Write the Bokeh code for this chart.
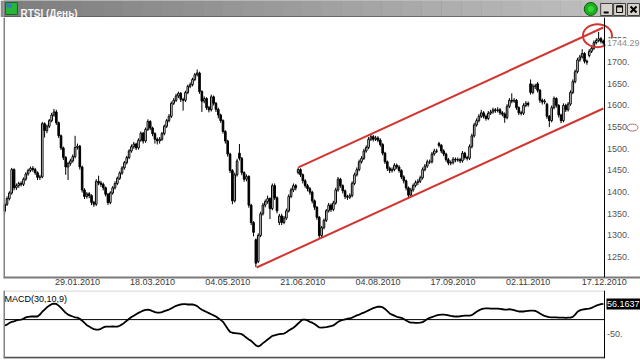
from bokeh.plotting import figure
from bokeh.layouts import column
from bokeh.models import Range1d, FixedTicker, Span, ColumnDataSource
from bokeh.core.properties import value
from bokeh.embed import file_html
from bokeh.resources import INLINE

# ---------------- data ----------------
title_text = "RTSI (День)"
indicator_name = "MACD(30,10,9)"

opens = [
    1356, 1372, 1385, 1398, 1452, 1410, 1415, 1420, 1418, 1430,
    1442, 1450, 1455, 1452, 1445, 1434, 1435, 1558, 1542, 1552,
    1565, 1578, 1585, 1560, 1530, 1502, 1480, 1458, 1466, 1472,
    1482, 1503, 1506, 1458, 1405, 1390, 1396, 1392, 1376, 1372,
    1425, 1421, 1418, 1410, 1395, 1376, 1398, 1410, 1420, 1432,
    1444, 1456, 1468, 1480, 1495, 1505, 1511, 1502, 1520, 1536,
    1518, 1545, 1563, 1548, 1535, 1522, 1518, 1522, 1535, 1552,
    1565, 1575, 1605, 1612, 1622, 1628, 1614, 1612, 1630, 1644,
    1648, 1660, 1671, 1675, 1632, 1610, 1616, 1595, 1590, 1620,
    1605, 1591, 1578, 1565, 1540, 1518, 1488, 1450, 1380, 1440,
    1490, 1478, 1445, 1430, 1436, 1370, 1330, 1290, 1240, 1300,
    1350, 1370, 1378, 1385, 1362, 1415, 1387, 1330, 1345, 1330,
    1340, 1357, 1390, 1405, 1415, 1445, 1452, 1440, 1426, 1415,
    1408, 1400, 1380, 1365, 1342, 1300, 1318, 1335, 1357, 1370,
    1360, 1375, 1405, 1430, 1415, 1403, 1390, 1388, 1392, 1420,
    1440, 1452, 1470, 1478, 1495, 1503, 1522, 1528, 1522, 1525,
    1520, 1510, 1490, 1470, 1455, 1450, 1452, 1462, 1458, 1450,
    1435, 1426, 1410, 1393, 1405, 1415, 1422, 1425, 1433, 1452,
    1460, 1470, 1470, 1488, 1495, 1512, 1508, 1495, 1488, 1475,
    1467, 1468, 1476, 1474, 1475, 1472, 1490, 1480, 1478, 1505,
    1530, 1555, 1565, 1575, 1583, 1575, 1570, 1582, 1585, 1590,
    1588, 1590, 1583, 1580, 1572, 1598, 1612, 1610, 1612, 1595,
    1583, 1582, 1600, 1605, 1650, 1630, 1645, 1650, 1635, 1612,
    1608, 1603, 1575, 1565, 1595, 1616, 1600, 1578, 1565, 1600,
    1590, 1603, 1630, 1655, 1678, 1705, 1712, 1720, 1702, 1715,
    1725, 1732, 1745, 1750, 1754, 1748,
]

highs = [
    1376, 1390, 1402, 1456, 1455, 1420, 1424, 1425, 1434, 1446,
    1454, 1459, 1460, 1456, 1448, 1440, 1562, 1561, 1556, 1569,
    1583, 1592, 1590, 1563, 1533, 1505, 1483, 1470, 1477, 1487,
    1530, 1512, 1509, 1461, 1409, 1400, 1400, 1395, 1380, 1430,
    1438, 1426, 1422, 1413, 1398, 1402, 1414, 1425, 1436, 1448,
    1460, 1472, 1484, 1499, 1510, 1516, 1514, 1524, 1540, 1539,
    1549, 1568, 1566, 1551, 1538, 1526, 1527, 1539, 1556, 1569,
    1580, 1609, 1617, 1627, 1632, 1631, 1618, 1634, 1648, 1653,
    1664, 1675, 1683, 1678, 1635, 1621, 1619, 1599, 1625, 1623,
    1608, 1595, 1581, 1568, 1543, 1521, 1491, 1453, 1445, 1477,
    1511, 1481, 1448, 1441, 1439, 1373, 1333, 1293, 1305, 1355,
    1375, 1383, 1392, 1388, 1420, 1420, 1390, 1350, 1350, 1345,
    1362, 1395, 1410, 1420, 1419, 1457, 1455, 1443, 1430, 1419,
    1412, 1403, 1383, 1368, 1345, 1322, 1339, 1361, 1375, 1374,
    1380, 1410, 1435, 1433, 1418, 1406, 1394, 1397, 1425, 1445,
    1457, 1475, 1483, 1500, 1508, 1527, 1533, 1532, 1530, 1529,
    1524, 1513, 1493, 1473, 1459, 1457, 1467, 1466, 1462, 1453,
    1439, 1429, 1413, 1410, 1420, 1427, 1430, 1438, 1457, 1465,
    1475, 1475, 1493, 1500, 1500, 1516, 1511, 1499, 1491, 1479,
    1473, 1481, 1480, 1480, 1479, 1495, 1493, 1484, 1510, 1535,
    1560, 1570, 1580, 1590, 1587, 1579, 1587, 1590, 1595, 1594,
    1596, 1594, 1587, 1584, 1603, 1617, 1628, 1617, 1615, 1598,
    1588, 1605, 1610, 1609, 1660, 1650, 1650, 1654, 1638, 1616,
    1615, 1606, 1578, 1600, 1621, 1619, 1603, 1581, 1605, 1604,
    1608, 1635, 1660, 1683, 1710, 1717, 1730, 1723, 1706, 1730,
    1737, 1750, 1755, 1770, 1758, 1752,
]

lows = [
    1350, 1368, 1381, 1394, 1404, 1405, 1410, 1413, 1414, 1426,
    1438, 1446, 1447, 1440, 1428, 1428, 1432, 1526, 1536, 1548,
    1561, 1574, 1555, 1525, 1497, 1474, 1440, 1428, 1461, 1468,
    1478, 1498, 1452, 1399, 1384, 1385, 1386, 1370, 1366, 1368,
    1416, 1412, 1404, 1390, 1370, 1372, 1394, 1406, 1416, 1428,
    1440, 1452, 1464, 1476, 1491, 1500, 1497, 1498, 1516, 1512,
    1514, 1541, 1543, 1529, 1512, 1510, 1512, 1518, 1531, 1548,
    1561, 1571, 1601, 1608, 1617, 1608, 1588, 1608, 1626, 1640,
    1644, 1656, 1667, 1627, 1585, 1605, 1590, 1584, 1586, 1600,
    1585, 1570, 1560, 1535, 1512, 1482, 1444, 1372, 1376, 1436,
    1473, 1439, 1424, 1425, 1364, 1324, 1298, 1227, 1236, 1296,
    1346, 1365, 1373, 1338, 1358, 1382, 1351, 1324, 1324, 1326,
    1336, 1353, 1386, 1400, 1404, 1441, 1435, 1420, 1410, 1402,
    1394, 1374, 1359, 1336, 1294, 1296, 1314, 1331, 1353, 1354,
    1356, 1371, 1401, 1410, 1397, 1384, 1382, 1384, 1388, 1416,
    1436, 1448, 1466, 1474, 1491, 1499, 1518, 1517, 1518, 1515,
    1505, 1485, 1465, 1449, 1444, 1445, 1448, 1453, 1445, 1430,
    1420, 1404, 1385, 1389, 1401, 1411, 1416, 1421, 1429, 1448,
    1456, 1465, 1466, 1484, 1490, 1503, 1490, 1483, 1470, 1462,
    1462, 1464, 1469, 1470, 1467, 1468, 1475, 1473, 1474, 1501,
    1526, 1551, 1561, 1571, 1570, 1565, 1566, 1578, 1581, 1583,
    1584, 1578, 1575, 1560, 1568, 1594, 1605, 1606, 1590, 1578,
    1577, 1578, 1596, 1597, 1625, 1626, 1638, 1630, 1606, 1602,
    1603, 1569, 1550, 1561, 1591, 1595, 1572, 1559, 1561, 1585,
    1586, 1599, 1626, 1651, 1674, 1701, 1708, 1697, 1694, 1711,
    1721, 1728, 1741, 1746, 1743, 1740,
]

closes = [
    1372, 1385, 1398, 1452, 1410, 1415, 1420, 1418, 1430, 1442,
    1450, 1455, 1452, 1445, 1434, 1435, 1558, 1542, 1552, 1565,
    1578, 1585, 1560, 1530, 1502, 1480, 1458, 1466, 1472, 1482,
    1503, 1506, 1458, 1405, 1390, 1396, 1392, 1376, 1372, 1425,
    1421, 1418, 1410, 1395, 1376, 1398, 1410, 1420, 1432, 1444,
    1456, 1468, 1480, 1495, 1505, 1511, 1502, 1520, 1536, 1518,
    1545, 1563, 1548, 1535, 1522, 1518, 1522, 1535, 1552, 1565,
    1575, 1605, 1612, 1622, 1628, 1614, 1612, 1630, 1644, 1648,
    1660, 1671, 1675, 1632, 1610, 1616, 1595, 1590, 1620, 1605,
    1591, 1578, 1565, 1540, 1518, 1488, 1450, 1380, 1440, 1472,
    1478, 1445, 1430, 1436, 1370, 1330, 1307, 1236, 1300, 1350,
    1370, 1378, 1385, 1362, 1415, 1387, 1357, 1345, 1330, 1340,
    1357, 1390, 1405, 1415, 1410, 1452, 1440, 1426, 1415, 1408,
    1400, 1380, 1365, 1342, 1300, 1318, 1335, 1357, 1370, 1360,
    1375, 1405, 1430, 1415, 1403, 1390, 1388, 1392, 1420, 1440,
    1452, 1470, 1478, 1495, 1503, 1522, 1528, 1522, 1525, 1520,
    1510, 1490, 1470, 1455, 1450, 1452, 1462, 1458, 1450, 1435,
    1426, 1410, 1393, 1405, 1415, 1422, 1425, 1433, 1452, 1460,
    1470, 1470, 1488, 1495, 1495, 1508, 1495, 1488, 1475, 1467,
    1468, 1476, 1474, 1475, 1472, 1490, 1480, 1478, 1505, 1530,
    1555, 1565, 1575, 1583, 1575, 1570, 1582, 1585, 1590, 1588,
    1590, 1583, 1580, 1572, 1598, 1612, 1610, 1612, 1595, 1583,
    1582, 1600, 1605, 1602, 1630, 1645, 1645, 1635, 1612, 1608,
    1610, 1575, 1565, 1595, 1616, 1600, 1578, 1565, 1600, 1590,
    1603, 1630, 1655, 1678, 1705, 1712, 1720, 1702, 1700, 1725,
    1732, 1745, 1750, 1754, 1748, 1744.29,
]

macd = [
    -21, -18, -12, -8, -6, -3, -1, 0, 3, 8,
    10, 11, 11, 11, 11, 18, 28, 36, 44, 50,
    55, 57, 56, 50, 42, 33, 24, 18, 14, 11,
    8, 7, 3, -4, -12, -20, -25, -30, -34, -36,
    -36, -33, -28, -25, -25, -25, -24, -25, -25, -22,
    -17, -11, -4, 3, 9, 14, 19, 24, 28, 32,
    35, 36, 34, 30, 27, 25, 25, 27, 30, 33,
    36, 40, 45, 49, 52, 54, 55, 55, 54, 54,
    54, 52, 48, 41, 35, 31, 27, 23, 19, 15,
    11, 5, -1, -8, -20, -33, -44, -47, -48, -49,
    -50, -52, -58, -65, -71, -76, -84, -92, -96, -92,
    -84, -78, -71, -65, -58, -56, -54, -52, -51, -50,
    -45, -39, -34, -29, -22, -14, -6, 0, 0, -3,
    -8, -11, -16, -22, -28, -29, -28, -27, -25, -23,
    -21, -15, -8, -4, -1, 1, 3, 4, 7, 11,
    15, 18, 22, 25, 29, 33, 37, 41, 44, 46,
    46, 44, 38, 30, 22, 18, 14, 10, 8, 6,
    2, -3, -8, -11, -11, -12, -12, -11, -9, -4,
    2, 6, 9, 12, 15, 17, 18, 18, 17, 15,
    13, 12, 11, 11, 12, 13, 14, 14, 14, 16,
    22, 28, 33, 37, 39, 40, 40, 39, 39, 39,
    39, 38, 37, 36, 36, 37, 36, 34, 31, 29,
    29, 29, 30, 31, 32, 32, 31, 27, 22, 17,
    13, 11, 9, 8, 8, 8, 7, 7, 7, 6,
    7, 7, 10, 18, 28, 33, 36, 37, 38, 39,
    42, 46, 50, 53, 55, 56.1637,
]

date_tick_bars = [31, 63, 95, 127, 159, 191, 223, 255.4]
date_tick_labels = ["29.01.2010", "18.03.2010", "04.05.2010", "21.06.2010",
                    "04.08.2010", "17.09.2010", "02.11.2010", "17.12.2010"]
price_ticks = [1250, 1300, 1350, 1400, 1450, 1500, 1550, 1600, 1650, 1700, 1750]
macd_ticks = [-50]

# hand-drawn channel (bar index, price) and the circled top
channel_upper_x = [125.1, 255.0]
channel_upper_y = [1457, 1780]
channel_lower_x = [107.3, 255.0]
channel_lower_y = [1226, 1593]
circled_x = [252.5]
circled_y = [1761]
cursor_mark_price = [1549]

# ---------------- geometry / styling ----------------
AX_FONT = value("Liberation Sans")
AX_FONT_NAME = "Liberation Sans"
FS = "9px"
RED = "#d2352f"
N = len(closes)
xs = list(range(N))
W, LEFT_B = 640, 3
BAR_PX = 601 / N                       # bars fill x = 3 .. 604
X_END = -0.5 + (W - LEFT_B) / BAR_PX   # frame runs to the window edge
AXIS_X = N - 0.5                       # price-scale line sits right after the last bar
PAD = 2.5 / BAR_PX                     # small gap before scale labels

# ---------------- title bar ----------------
t = figure(width=W, height=17, x_range=Range1d(0, 640), y_range=Range1d(17, 0),
           toolbar_location=None, output_backend="svg",
           x_axis_location=None, y_axis_location=None, min_border=0,
           outline_line_color=None, background_fill_color="#8c8c8c",
           border_fill_color="#8c8c8c")
t.grid.visible = False
n_strips = 32
strip_w = 640 / n_strips
lefts = [k * strip_w for k in range(n_strips)]
rights = [(k + 1) * strip_w for k in range(n_strips)]
cols = []
for k in range(n_strips):
    f = k / (n_strips - 1)
    g = int(0x7e + f * (0xc2 - 0x7e))
    cols.append("#%02x%02x%02x" % (g, g, g))
t.quad(left=lefts, right=rights, top=[0] * n_strips, bottom=[16] * n_strips,
       fill_color=cols, line_color=None)
t.quad(left=[0], right=[640], top=[16], bottom=[17], fill_color="#3c3c3c", line_color=None)
t.quad(left=[2], right=[14], top=[2], bottom=[14], fill_color="#27b53a", line_color="#176b22")
t.quad(left=[3], right=[8], top=[3], bottom=[7], fill_color="#3a78c8", line_color=None)
t.text(x=[17], y=[12.5], text=[title_text], text_font=value("Liberation Sans"),
       text_font_style="bold", text_font_size="10px", text_color="#f6f6f6",
       text_baseline="alphabetic")
t.scatter(x=[590], y=[8.5], marker="circle", size=13, fill_color="#1fae1f", line_color="#0b5e0b")
t.scatter(x=[590], y=[8.5], marker="circle", size=6, fill_color="#36d636", line_color=None)
t.quad(left=[600, 613, 627], right=[612, 625, 639], top=[3, 3, 3], bottom=[15, 15, 15],
       fill_color="#d8d4cc", line_color="#404040")
t.segment(x0=[603], y0=[12], x1=[608], y1=[12], line_color="black", line_width=2)
t.quad(left=[616], right=[622], top=[5.5], bottom=[12], fill_color=None, line_color="black")
t.segment(x0=[616], y0=[6], x1=[622], y1=[6], line_color="black", line_width=2)
t.segment(x0=[630, 630], y0=[6, 12], x1=[636, 636], y1=[12, 6], line_color="black", line_width=2)

# ---------------- price panel ----------------
src = ColumnDataSource(dict(
    x=xs, open=opens, high=highs, low=lows, close=closes,
    top=[max(o, c) for o, c in zip(opens, closes)],
    bottom=[min(o, c) if abs(o - c) > 0.5 else min(o, c) - 0.8 for o, c in zip(opens, closes)],
    fill=["white" if c >= o else "black" for o, c in zip(opens, closes)],
))

p = figure(width=W, height=273, x_range=Range1d(-0.5, X_END), y_range=Range1d(1203, 1803),
           toolbar_location=None, output_backend="svg", y_axis_location=None,
           min_border_left=LEFT_B, min_border_right=0, min_border_top=0, min_border_bottom=13,
           background_fill_color="white", border_fill_color="white",
           outline_line_color=None)
p.grid.visible = False

p.xaxis.ticker = FixedTicker(ticks=date_tick_bars)
p.xaxis.major_label_overrides = {tk: lab for tk, lab in zip(date_tick_bars, date_tick_labels)}
p.xaxis.major_tick_line_color = None
p.xaxis.minor_tick_line_color = None
p.xaxis.major_tick_out = 0
p.xaxis.major_tick_in = 0
p.xaxis.minor_tick_out = 0
p.xaxis.axis_line_color = "#7a7a7a"
p.xaxis.axis_line_width = 2
p.xaxis.major_label_standoff = 1
p.xaxis.major_label_text_font = AX_FONT_NAME
p.xaxis.major_label_text_font_size = FS
p.xaxis.major_label_text_color = "#3a3a3a"

# left border and price-scale line
p.add_layout(Span(location=-0.5, dimension="height", line_color="#808080", line_width=3))
p.add_layout(Span(location=AXIS_X, dimension="height", line_color="black", line_width=1))

p.segment(x0="x", y0="high", x1="x", y1="low", source=src, line_color="black", line_width=1)
p.vbar(x="x", width=0.68, top="top", bottom="bottom", source=src,
       fill_color="fill", line_color="black", line_width=1)

p.line(x=channel_upper_x, y=channel_upper_y, line_color=RED, line_width=2)
p.line(x=channel_lower_x, y=channel_lower_y, line_color=RED, line_width=2)
p.ellipse(x=circled_x, y=circled_y, width=29, height=23, width_units="screen",
          height_units="screen", fill_color=None, line_color=RED, line_width=2)

# price scale labels
p.text(x=[AXIS_X + PAD] * len(price_ticks), y=price_ticks,
       text=[f"{tk}." for tk in price_ticks], text_font=AX_FONT, text_font_size=FS,
       text_color="#555555", text_baseline="middle", text_align="left")
# last-price tag (covers most of the 1750 label, as in the terminal)
p.rect(x=[AXIS_X + 18 / BAR_PX], y=[closes[-1]], width=34, height=9, width_units="screen",
       height_units="screen", fill_color="white", line_color=None)
p.text(x=[AXIS_X + PAD], y=[closes[-1]], text=[f"{closes[-1]:.2f}"], text_font=AX_FONT,
       text_font_size=FS, text_color="#8c8c8c", text_baseline="middle", text_align="left")
p.ellipse(x=[AXIS_X + 28 / BAR_PX], y=cursor_mark_price, width=11, height=7,
          width_units="screen", height_units="screen", fill_color=None,
          line_color="#b06a6a", line_width=1)

# ---------------- MACD panel ----------------
m = figure(width=W, height=70, x_range=p.x_range, y_range=Range1d(-139, 104),
           toolbar_location=None, output_backend="svg", y_axis_location=None,
           x_axis_location=None,
           min_border_left=LEFT_B, min_border_right=0, min_border_top=0, min_border_bottom=2,
           background_fill_color="white", border_fill_color="white",
           outline_line_color=None)
m.grid.visible = False
m.add_layout(Span(location=-0.5, dimension="height", line_color="#808080", line_width=3))
m.add_layout(Span(location=AXIS_X, dimension="height", line_color="black", line_width=1))
m.segment(x0=[-0.5, -0.5], y0=[102.5, -136], x1=[AXIS_X, AXIS_X], y1=[102.5, -136],
          line_color=["#c4c4c4", "#505050"], line_width=[1, 2])
m.segment(x0=[-0.5], y0=[0], x1=[AXIS_X], y1=[0], line_color="black", line_width=1)
m.line(x=xs, y=macd, line_color="black", line_width=1.8)

m.text(x=[-0.5], y=[104], x_offset=1, y_offset=3, text=[indicator_name], text_font=AX_FONT,
       text_font_size=FS, text_color="black", text_baseline="top", text_align="left")
m.text(x=[AXIS_X + PAD] * len(macd_ticks), y=macd_ticks, text=[f"{tk}." for tk in macd_ticks],
       text_font=AX_FONT, text_font_size=FS, text_color="#555555",
       text_baseline="middle", text_align="left")
m.rect(x=[AXIS_X + 20 / BAR_PX], y=[macd[-1]], width=36, height=11, width_units="screen",
       height_units="screen", fill_color="black", line_color=None)
m.text(x=[AXIS_X + PAD], y=[macd[-1]], text=[f"{macd[-1]:.4f}"], text_font=AX_FONT,
       text_font_size=FS, text_color="white", text_baseline="middle", text_align="left")

layout = column(t, p, m, spacing=0)
open("out.html", "w").write(file_html(layout, INLINE))
